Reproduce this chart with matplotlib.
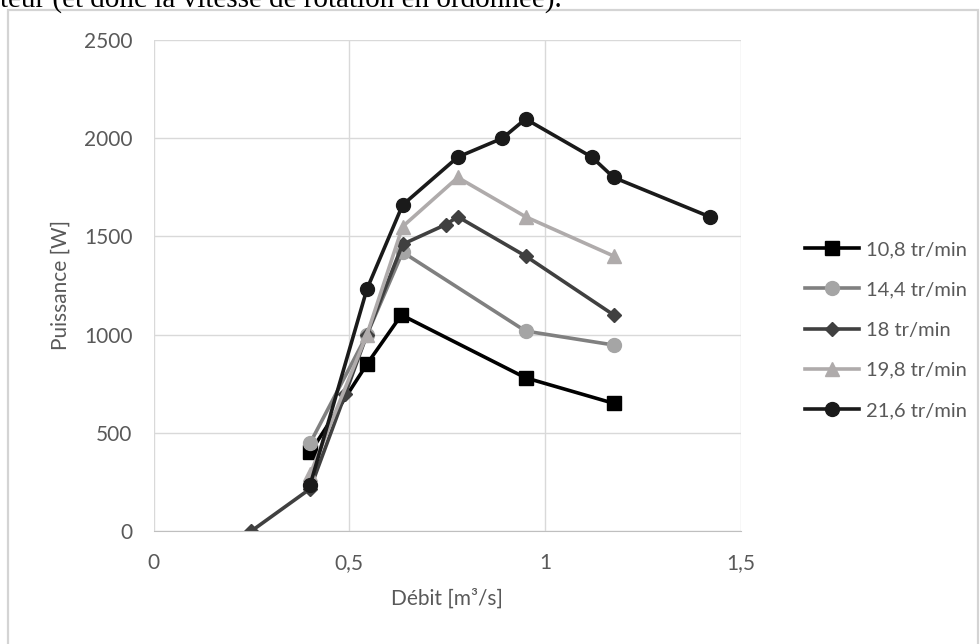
import matplotlib
matplotlib.use("Agg")
import matplotlib.pyplot as plt
from matplotlib.patches import Rectangle

# data (debit m3/s, puissance W)
x_108 = [0.4, 0.545, 0.633, 0.95, 1.175]
p_108 = [400, 850, 1100, 780, 650]
x_144 = [0.4, 0.545, 0.636, 0.95, 1.175]
p_144 = [448, 1000, 1420, 1018, 947]
x_18 = [0.25, 0.4, 0.49, 0.545, 0.636, 0.746, 0.777, 0.95, 1.175]
p_18 = [0, 215, 700, 1000, 1460, 1560, 1600, 1400, 1100]
x_198 = [0.4, 0.545, 0.636, 0.777, 0.95, 1.175]
p_198 = [290, 1000, 1550, 1800, 1600, 1400]
x_216 = [0.4, 0.545, 0.636, 0.777, 0.891, 0.95, 1.119, 1.175, 1.42]
p_216 = [235, 1232, 1660, 1904, 2000, 2098, 1904, 1800, 1600]

labels = ["10,8 tr/min", "14,4 tr/min", "18 tr/min", "19,8 tr/min", "21,6 tr/min"]
xticks = [0, 0.5, 1, 1.5]
xtick_labels = ["0", "0,5", "1", "1,5"]
yticks = [0, 500, 1000, 1500, 2000, 2500]

plt.rcParams['font.family'] = ['Lato', 'DejaVu Sans']
txt = '#595959'
fs = 15

fig = plt.figure(figsize=(9.8, 6.44), dpi=100)
ax = fig.add_axes([153.5 / 980, 1 - 531 / 644, (741 - 153.5) / 980, (531 - 40) / 644])

# frame of the excel chart and the cut document line above it
fig.patches.append(Rectangle((8 / 980, -0.01), 970 / 980, 1 - 10 / 644 + 0.01, transform=fig.transFigure,
                             fill=False, edgecolor='#d4d4d4', linewidth=1.6))
fig.text(0, 1 - 7 / 644, "teur (et donc la vitesse de rotation en ordonnée).",
         family='Liberation Serif', fontsize=21, color='black', va='baseline')

lw = 2.6
ax.plot(x_108, p_108, color='black', lw=lw, marker='s', ms=10, mfc='black', mec='black', label=labels[0])
ax.plot(x_144, p_144, color='#808080', lw=lw, marker='o', ms=10, mfc='#a5a5a5', mec='#a5a5a5', label=labels[1])
ax.plot(x_18, p_18, color='#404040', lw=lw, marker='D', ms=7, mfc='#404040', mec='#404040', label=labels[2])
ax.plot(x_198, p_198, color='#afabab', lw=lw, marker='^', ms=10, mfc='#afabab', mec='#afabab', label=labels[3])
ax.plot(x_216, p_216, color='#1a1a1a', lw=lw, marker='o', ms=10, mfc='#1a1a1a', mec='#1a1a1a', label=labels[4])

ax.set_xlim(0, 1.5)
ax.set_ylim(0, 2500)
ax.set_xticks(xticks)
ax.set_xticklabels(xtick_labels)
ax.set_yticks(yticks)
ax.grid(color='#d9d9d9', linewidth=1)
ax.set_axisbelow(True)
for s in ['top', 'right', 'left']:
    ax.spines[s].set_visible(False)
ax.spines['bottom'].set_color('#bfbfbf')
ax.tick_params(length=0, labelsize=fs, colors=txt)
ax.tick_params(axis='x', pad=16)
ax.tick_params(axis='y', pad=15)
ax.set_xlabel("Débit [m³/s]", fontsize=fs, color=txt, labelpad=11)
ax.set_ylabel("Puissance [W]", fontsize=fs, color=txt, labelpad=10)

fig.legend(loc='center left', bbox_to_anchor=(795 / 980, 1 - 330 / 644), frameon=False,
           fontsize=14.5, labelcolor=txt, handlelength=2.7, handletextpad=0.35,
           labelspacing=1.15, borderpad=0)

fig.savefig("out.png", dpi=100)
